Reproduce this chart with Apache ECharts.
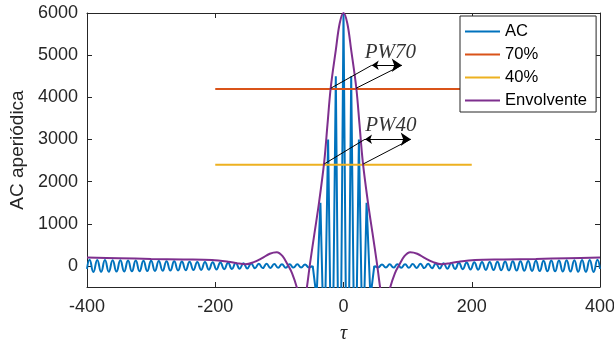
<!DOCTYPE html>
<html>
<head>
<meta charset="utf-8">
<script src="https://cdn.jsdelivr.net/npm/echarts@6/dist/echarts.min.js"></script>
<style>html,body{margin:0;padding:0;background:#fff}#c{width:614px;height:345px}</style>
</head>
<body>
<div id="c"></div>
<script>
// ---------- data ----------
const xTicks = [-400, -200, 0, 200, 400];
const yTicks = [0, 1000, 2000, 3000, 4000, 5000, 6000];

// AC main lobe (extrema of the carrier)
const tauC = [-48,-42,-36,-30,-24,-18,-12,-6,0,6,12,18,24,30,36,42,48];
const acC  = [0,-750,1500,-2250,3000,-3750,4500,-5250,6000,-5250,4500,-3750,3000,-2250,1500,-750,0];

// AC right side-lobes
const tauR = [48,54,60,66,72,78,84,90,96,102,108,114,120,126,132,138,144,150,156,162,168,174,180,186,192,198,204,210,216,222,228,234,240,246,252,258,264,270,276,282,288,294,300,306,312,318,324,330,336,342,348,354,360,366,372,378,384,390,396,400];
const acR  = [0,-35,36,-37,38,-39,40,-41,42,-43,45,-47,49,-51,53,-55,57,-60,62,-65,68,-71,74,-77,80,-84,88,-90,92,-94,96,-98,100,-102,104,-106,108,-110,112,-114,116,-118,120,-122,124,-126,127,-129,130,-132,133,-135,137,-138,140,-141,143,-144,145,-72];

// AC left side-lobes
const tauL = [-400,-396,-390,-384,-378,-372,-366,-360,-354,-348,-342,-336,-330,-324,-318,-312,-306,-300,-294,-288,-282,-276,-270,-264,-258,-252,-246,-240,-234,-228,-222,-216,-210,-204,-198,-192,-186,-180,-174,-168,-162,-156,-150,-144,-138,-132,-126,-120,-114,-108,-102,-96,-90,-84,-78,-72,-66,-60,-54,-48];
const acL  = [-72,145,-144,143,-141,140,-138,137,-135,133,-132,130,-129,127,-126,124,-122,120,-118,116,-114,112,-110,108,-106,104,-102,100,-98,96,-94,92,-90,88,-84,80,-77,74,-71,68,-65,62,-60,57,-55,53,-51,49,-47,45,-43,42,-41,40,-39,38,-37,36,-35,0];

// threshold lines
const tauThr = [-200, 200];
const thr70 = [4200, 4200];
const thr40 = [2400, 2400];

// envelope
const tauEnv = [-400,-350,-300,-250,-205,-180,-165,-153,-140,-127,-115,-104,-95,-86,-80,-73,-69,-65,-61,-57,-52,-45,-38,-30,-25,-20,-12,-6,0,6,12,20,25,30,38,45,52,57,61,65,69,73,80,86,95,104,115,127,140,153,165,180,205,250,300,350,400];
const envV   = [197,182,166,153,140,100,60,40,90,185,290,325,230,0,-180,-500,-800,-950,-850,-500,80,800,1520,2480,3350,4215,5120,5750,6000,5750,5120,4215,3350,2480,1520,800,80,-500,-850,-950,-800,-500,-180,0,230,325,290,185,90,40,60,100,140,153,166,182,197];

// annotations (data coordinates)
const pwLabels = ['PW70', 'PW40'];
const pwLabelPos = [[73, 5075], [74, 3332]];
const pwArrows = [[[44, 4760], [90.8, 4760]], [[33.5, 3005], [104.8, 3005]]];
const pwLeaders = [
  [[44, 4760], [-20, 4214]], [[90.8, 4760], [19.5, 4214]],
  [[33.5, 3005], [-30, 2419]], [[104.8, 3005], [30.9, 2419]]
];

// ---------- chart ----------
const zip = (a, b) => a.map((v, i) => [v, b[i]]);
const AX = '#262626';
const FONT = 'Liberation Sans';
const chart = echarts.init(document.getElementById('c'), null, {renderer: 'canvas'});

const baseX = {
  type: 'value', min: -400, max: 400, interval: 200,
  axisLine: {show: true, onZero: false, lineStyle: {color: AX, width: 1}},
  axisTick: {show: true, inside: true, length: 5, lineStyle: {color: AX}},
  splitLine: {show: false}
};
const baseY = {
  type: 'value', min: -500, max: 6000,
  axisLine: {show: true, onZero: false, lineStyle: {color: AX, width: 1}},
  axisTick: {show: true, inside: true, length: 5, customValues: yTicks, lineStyle: {color: AX}},
  splitLine: {show: false}
};

chart.setOption({
  animation: false,
  backgroundColor: '#fff',
  grid: {left: 87, right: 14, top: 13, bottom: 58, containLabel: false, outerBoundsMode: 'none'},
  legend: {
    data: ['AC', '70%', '40%', 'Envolvente'],
    orient: 'vertical', left: 460, top: 16,
    padding: [7, 9, 3, 5], itemGap: 6, itemWidth: 35, itemHeight: 2, icon: 'rect',
    backgroundColor: '#fff', borderColor: AX, borderWidth: 1, borderRadius: 0,
    textStyle: {fontFamily: FONT, fontSize: 16.6, color: '#000', lineHeight: 16}
  },
  xAxis: [
    Object.assign({}, baseX, {
      position: 'bottom',
      axisLabel: {show: true, color: AX, fontFamily: FONT, fontSize: 18, margin: 11, customValues: xTicks,
        formatter: v => String(v)},
      name: 'τ', nameLocation: 'middle', nameGap: 37,
      nameTextStyle: {fontFamily: 'Liberation Serif', fontStyle: 'italic', fontSize: 20, color: AX}
    }),
    Object.assign({}, baseX, {position: 'top', axisLabel: {show: false}})
  ],
  yAxis: [
    Object.assign({}, baseY, {
      position: 'left',
      axisLabel: {show: true, color: AX, fontFamily: FONT, fontSize: 18, margin: 9, customValues: yTicks,
        formatter: v => String(v)},
      name: 'AC aperiódica', nameLocation: 'middle', nameGap: 54, nameRotate: 90,
      nameTextStyle: {fontFamily: FONT, fontSize: 19, color: AX}
    }),
    Object.assign({}, baseY, {position: 'right', axisLabel: {show: false}})
  ],
  series: [
    {name: 'AC', type: 'line', data: zip(tauL, acL), showSymbol: false, symbol: 'none', smooth: 0.5,
      lineStyle: {color: '#0072BD', width: 2}, itemStyle: {color: '#0072BD'}, z: 2},
    {name: 'AC', type: 'line', data: zip(tauC, acC), showSymbol: false, symbol: 'none',
      lineStyle: {color: '#0072BD', width: 2}, itemStyle: {color: '#0072BD'}, z: 2},
    {name: 'AC', type: 'line', data: zip(tauR, acR), showSymbol: false, symbol: 'none', smooth: 0.5,
      lineStyle: {color: '#0072BD', width: 2}, itemStyle: {color: '#0072BD'}, z: 2},
    {name: '70%', type: 'line', data: zip(tauThr, thr70), showSymbol: false, symbol: 'none',
      lineStyle: {color: '#D95319', width: 2}, itemStyle: {color: '#D95319'}, z: 3},
    {name: '40%', type: 'line', data: zip(tauThr, thr40), showSymbol: false, symbol: 'none',
      lineStyle: {color: '#EDB120', width: 2}, itemStyle: {color: '#EDB120'}, z: 3},
    {name: 'Envolvente', type: 'line', data: zip(tauEnv, envV), showSymbol: false, symbol: 'none', smooth: 0.35,
      lineStyle: {color: '#7E2F8E', width: 2}, itemStyle: {color: '#7E2F8E'}, z: 4},
    {name: 'leaders', type: 'lines', coordinateSystem: 'cartesian2d', z: 5,
      data: pwLeaders.map(c => ({coords: c})), symbol: 'none',
      lineStyle: {color: '#000', width: 1, opacity: 1}},
    {name: 'arrows', type: 'lines', coordinateSystem: 'cartesian2d', z: 5,
      data: pwArrows.map(c => ({coords: c})), symbol: ['arrow', 'arrow'], symbolSize: [7, 10],
      lineStyle: {color: '#000', width: 1.2, opacity: 1}, itemStyle: {color: '#000'}},
    {name: 'pwtext', type: 'scatter', z: 6, symbol: 'circle', symbolSize: 1,
      itemStyle: {color: 'rgba(0,0,0,0)'},
      data: pwLabelPos.map((p, i) => [p[0], p[1], pwLabels[i]]),
      label: {show: true, position: 'inside', formatter: p => p.value[2],
        fontFamily: 'Liberation Serif', fontStyle: 'italic', fontSize: 21, color: '#000'}}
  ]
});
</script>
</body>
</html>
